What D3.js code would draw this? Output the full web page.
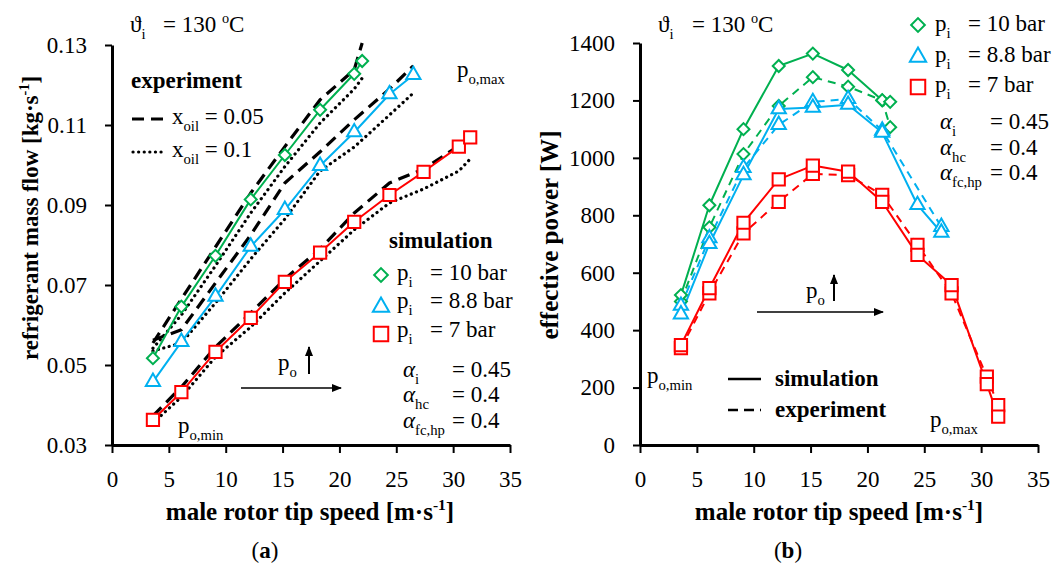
<!DOCTYPE html>
<html>
<head>
<meta charset="utf-8">
<script src="https://cdn.jsdelivr.net/npm/d3@7"></script>
<style>
  body { margin: 0; background: #fff; }
  svg text { font-family: "Liberation Serif", "Times New Roman", serif; fill: #000; }
</style>
</head>
<body>
<svg id="chart" width="1060" height="568"></svg>
<script>
// tip speeds [m/s] of the measured operating points
var speedGreen = [3.6, 6.1, 9.1, 12.2, 15.2, 18.3, 21.3, 22.0];
var speedBlue = [3.6, 6.1, 9.1, 12.2, 15.2, 18.3, 21.3, 24.4, 26.5];
var speedBlueExp = [3.6, 6.1, 9.1, 12.2, 15.2, 18.3, 21.3, 26.5];
var speedRed = [3.6, 6.1, 9.1, 12.2, 15.2, 18.3, 21.3, 24.4, 27.4, 30.5, 31.5];

// (a) refrigerant mass flow [kg/s]
var massGreenSim = [0.0517, 0.0646, 0.0773, 0.0914, 0.1025, 0.1138, 0.1228, 0.1260];
var massGreenX005 = [0.0555, 0.0665, 0.0795, 0.0930, 0.1046, 0.1163, 0.1238, 0.1305];
var massGreenX01 = [0.0542, 0.0625, 0.0748, 0.0880, 0.0996, 0.1105, 0.1190, 0.1217];
var massBlueSim = [0.0458, 0.0558, 0.0671, 0.0796, 0.0888, 0.0998, 0.1082, 0.1177, 0.1225];
var massBlueX005 = [0.0562, 0.0588, 0.0705, 0.0825, 0.0955, 0.1033, 0.1113, 0.1190, 0.1248];
var massBlueX01 = [0.0535, 0.0555, 0.0655, 0.0765, 0.0865, 0.0985, 0.1045, 0.1125, 0.1180];
var massRedSim = [0.0363, 0.0432, 0.0533, 0.0618, 0.0708, 0.0781, 0.0858, 0.0925, 0.0983, 0.1046, 0.1069];
var massRedX005 = [0.0373, 0.0445, 0.0545, 0.0630, 0.0715, 0.0790, 0.0880, 0.0955, 0.0990, 0.1048, 0.1065];
var massRedX01 = [0.0355, 0.0420, 0.0520, 0.0595, 0.0680, 0.0760, 0.0838, 0.0905, 0.0940, 0.0985, 0.1015];

// (b) effective power [W]
var powGreenSim = [522, 835, 1100, 1320, 1363, 1306, 1201, 1195];
var powGreenExp = [500, 758, 1013, 1181, 1281, 1248, 1200, 1107];
var powBlueSim = [455, 700, 940, 1170, 1175, 1185, 1088, 836, 740];
var powBlueExp = [485, 720, 965, 1115, 1195, 1205, 1095, 760];
var powRedSim = [348, 546, 774, 925, 973, 952, 847, 662, 557, 212, 99];
var powRedExp = [337, 528, 737, 847, 944, 940, 871, 697, 528, 238, 139];

// ticks
var speedTicks = [0, 5, 10, 15, 20, 25, 30, 35];
var massTicks = [0.03, 0.05, 0.07, 0.09, 0.11, 0.13];
var powTicks = [0, 200, 400, 600, 800, 1000, 1200, 1400];

var green = "#00b050", blue = "#00b0f0", red = "#ff0000";

var svg = d3.select("#chart");

// arrow head
svg.append("defs").append("marker")
    .attr("id", "arrow")
    .attr("viewBox", "0 0 10 10")
    .attr("refX", 9).attr("refY", 5)
    .attr("markerWidth", 10).attr("markerHeight", 10)
    .attr("markerUnits", "userSpaceOnUse")
    .attr("orient", "auto")
    .append("path").attr("d", "M0,1 L10,5 L0,9 Z").attr("fill", "#000");

// text with sub/superscripts
function rich(g, x, y, parts, size, bold) {
    size = size || 22;
    var t = g.append("text").attr("x", x).attr("y", y).style("font-size", size + "px");
    if (bold) t.style("font-weight", "bold");
    var shift = 0;
    parts.forEach(p => {
        var str = typeof p === "string" ? p : p[0];
        var kind = typeof p === "string" ? "" : p[1];
        var target = 0, fs = size;
        if (kind === "sub") { target = size * 0.3; fs = size * 0.64; }
        if (kind === "sup") { target = -size * 0.4; fs = size * 0.62; }
        var s = t.append("tspan").attr("dy", target - shift).style("font-size", fs + "px").text(str);
        if (kind === "i") s.style("font-style", "italic");
        if (kind === "b") s.style("font-weight", "bold");
        shift = target;
    });
    return t;
}

function drawAxes(g, x, y, yTicks, yFmt) {
    var ax = g.append("g").attr("transform", `translate(0,${y.range()[0]})`)
        .call(d3.axisBottom(x).tickValues(speedTicks).tickSize(8).tickSizeOuter(0).tickPadding(18));
    var ay = g.append("g").attr("transform", `translate(${x.range()[0]},0)`)
        .call(d3.axisLeft(y).tickValues(yTicks).tickFormat(yFmt).tickSize(7).tickSizeOuter(0).tickPadding(18));
    [ax, ay].forEach(a => {
        a.select(".domain").attr("stroke", "#000").attr("stroke-width", 3);
        a.selectAll(".tick line").attr("stroke", "#000").attr("stroke-width", 2);
        a.selectAll(".tick text").attr("font-family", null).style("font-size", "23px").attr("fill", "#000");
    });
}

function line(g, x, y, xs, ys, color, width, dash) {
    var gen = d3.line().x(d => x(d[0])).y(d => y(d[1]));
    var p = g.append("path")
        .datum(xs.map((v, i) => [v, ys[i]]))
        .attr("d", gen)
        .attr("fill", "none")
        .attr("stroke", color)
        .attr("stroke-width", width)
        .attr("stroke-linejoin", "round");
    if (dash) p.attr("stroke-dasharray", dash);
    if (dash === DOT) p.attr("stroke-linecap", "round");
    return p;
}

var symbols = {
    diamond: { type: d3.symbolSquare, size: 72, rot: 45 },
    triangle: { type: d3.symbolTriangle, size: 88, rot: 0 },
    square: { type: d3.symbolSquare, size: 150, rot: 0 }
};

function markers(g, x, y, xs, ys, shape, color, scale) {
    var s = symbols[shape];
    g.selectAll(null)
        .data(xs.map((v, i) => [v, ys[i]]))
        .join("path")
        .attr("d", d3.symbol().type(s.type).size(s.size * (scale || 1)))
        .attr("transform", d => `translate(${x(d[0])},${y(d[1])}) rotate(${s.rot})`)
        .attr("fill", "#fff")
        .attr("stroke", color)
        .attr("stroke-width", 2);
}

function marker1(g, cx, cy, shape, color, scale) {
    var s = symbols[shape];
    g.append("path")
        .attr("d", d3.symbol().type(s.type).size(s.size * (scale || 1)))
        .attr("transform", `translate(${cx},${cy}) rotate(${s.rot})`)
        .attr("fill", "#fff").attr("stroke", color).attr("stroke-width", 2);
}

// ---------------- (a) mass flow ----------------
var gA = svg.append("g");
var xA = d3.scaleLinear().domain([0, 35]).range([112, 510]);
var yA = d3.scaleLinear().domain([0.03, 0.13]).range([445, 45]);
drawAxes(gA, xA, yA, massTicks, d3.format(".2f"));

var DASH = "12 7", DOT = "0.1 5.5";
// experiment lines (black)
line(gA, xA, yA, speedGreen, massGreenX005, "#000", 3.2, DASH);
line(gA, xA, yA, speedGreen, massGreenX01, "#000", 3.2, DOT);
line(gA, xA, yA, speedBlue, massBlueX005, "#000", 3.2, DASH);
line(gA, xA, yA, speedBlue, massBlueX01, "#000", 3.2, DOT);
line(gA, xA, yA, speedRed, massRedX005, "#000", 3.2, DASH);
line(gA, xA, yA, speedRed, massRedX01, "#000", 3.2, DOT);
// simulation lines
line(gA, xA, yA, speedGreen, massGreenSim, green, 2);
line(gA, xA, yA, speedBlue, massBlueSim, blue, 2);
line(gA, xA, yA, speedRed, massRedSim, red, 2);
markers(gA, xA, yA, speedGreen, massGreenSim, "diamond", green);
markers(gA, xA, yA, speedBlue, massBlueSim, "triangle", blue);
markers(gA, xA, yA, speedRed, massRedSim, "square", red);

// annotations (a)
rich(gA, 130, 32, ["ϑ", ["i", "sub"]], 23);
rich(gA, 163, 32, ["= 130 ", ["o", "sup"], "C"], 23);
rich(gA, 457, 77, ["p", ["o,max", "sub"]], 23);
rich(gA, 131, 88, ["experiment"], 23, true);
gA.append("line").attr("x1", 132).attr("x2", 166).attr("y1", 119).attr("y2", 119)
    .attr("stroke", "#000").attr("stroke-width", 3.2).attr("stroke-dasharray", DASH);
rich(gA, 172, 124, ["x", ["oil", "sub"], " = 0.05"], 23);
gA.append("line").attr("x1", 133).attr("x2", 166).attr("y1", 152).attr("y2", 152)
    .attr("stroke", "#000").attr("stroke-width", 3.2).attr("stroke-dasharray", DOT).attr("stroke-linecap", "round");
rich(gA, 172, 157, ["x", ["oil", "sub"], " = 0.1"], 23);

rich(gA, 389, 248, ["simulation"], 23, true);
marker1(gA, 381, 275, "diamond", green, 1.3);
rich(gA, 397, 280, ["p", ["i", "sub"]], 23);
rich(gA, 430, 280, ["= 10 bar"], 23);
marker1(gA, 381, 307, "triangle", blue, 1.3);
rich(gA, 397, 308, ["p", ["i", "sub"]], 23);
rich(gA, 430, 308, ["= 8.8 bar"], 23);
marker1(gA, 381, 334, "square", red, 1.4);
rich(gA, 397, 337, ["p", ["i", "sub"]], 23);
rich(gA, 430, 337, ["= 7 bar"], 23);

rich(gA, 403, 377, [["α", "i"], ["i", "sub"]], 23);
rich(gA, 452, 377, ["= 0.45"], 23);
rich(gA, 403, 402, [["α", "i"], ["hc", "sub"]], 23);
rich(gA, 452, 402, ["= 0.4"], 23);
rich(gA, 403, 428, [["α", "i"], ["fc,hp", "sub"]], 23);
rich(gA, 452, 428, ["= 0.4"], 23);

rich(gA, 278, 370, ["p", ["o", "sub"]], 23);
gA.append("line").attr("x1", 309).attr("x2", 309).attr("y1", 374).attr("y2", 347)
    .attr("stroke", "#000").attr("stroke-width", 2).attr("marker-end", "url(#arrow)");
gA.append("line").attr("x1", 241).attr("x2", 341).attr("y1", 388).attr("y2", 388)
    .attr("stroke", "#000").attr("stroke-width", 1.5).attr("marker-end", "url(#arrow)");
rich(gA, 178, 433, ["p", ["o,min", "sub"]], 23);

// axis titles (a)
rich(gA, 0, 0, ["refrigerant mass flow [kg·s", ["-1", "sup"], "]"], 23, true)
    .attr("transform", "translate(38,218) rotate(-90)").attr("text-anchor", "middle");
rich(gA, 310, 520, ["male rotor tip speed [m·s", ["-1", "sup"], "]"], 25, true).attr("text-anchor", "middle");
rich(gA, 265, 558, ["(", ["a", "b"], ")"], 23).attr("text-anchor", "middle");

// ---------------- (b) effective power ----------------
var gB = svg.append("g");
var xB = d3.scaleLinear().domain([0, 35]).range([640, 1038]);
var yB = d3.scaleLinear().domain([0, 1400]).range([445, 43]);
drawAxes(gB, xB, yB, powTicks, d3.format("d"));

var CDASH = "8 6";
line(gB, xB, yB, speedGreen, powGreenExp, green, 2, CDASH);
line(gB, xB, yB, speedBlueExp, powBlueExp, blue, 2, CDASH);
line(gB, xB, yB, speedRed, powRedExp, red, 2, CDASH);
line(gB, xB, yB, speedGreen, powGreenSim, green, 2);
line(gB, xB, yB, speedBlue, powBlueSim, blue, 2);
line(gB, xB, yB, speedRed, powRedSim, red, 2);
markers(gB, xB, yB, speedGreen, powGreenExp, "diamond", green);
markers(gB, xB, yB, speedGreen, powGreenSim, "diamond", green);
markers(gB, xB, yB, speedBlueExp, powBlueExp, "triangle", blue);
markers(gB, xB, yB, speedBlue, powBlueSim, "triangle", blue);
markers(gB, xB, yB, speedRed, powRedExp, "square", red);
markers(gB, xB, yB, speedRed, powRedSim, "square", red);

// annotations (b)
rich(gB, 658, 32, ["ϑ", ["i", "sub"]], 23);
rich(gB, 692, 32, ["= 130 ", ["o", "sup"], "C"], 23);
marker1(gB, 918, 25, "diamond", green, 1.3);
rich(gB, 935, 31, ["p", ["i", "sub"]], 23);
rich(gB, 968, 31, ["= 10 bar"], 23);
marker1(gB, 918, 57, "triangle", blue, 1.3);
rich(gB, 935, 62, ["p", ["i", "sub"]], 23);
rich(gB, 968, 62, ["= 8.8 bar"], 23);
marker1(gB, 918, 87, "square", red, 1.4);
rich(gB, 935, 92, ["p", ["i", "sub"]], 23);
rich(gB, 968, 92, ["= 7 bar"], 23);

rich(gB, 940, 129, [["α", "i"], ["i", "sub"]], 23);
rich(gB, 990, 129, ["= 0.45"], 23);
rich(gB, 940, 155, [["α", "i"], ["hc", "sub"]], 23);
rich(gB, 990, 155, ["= 0.4"], 23);
rich(gB, 940, 180, [["α", "i"], ["fc,hp", "sub"]], 23);
rich(gB, 990, 180, ["= 0.4"], 23);

rich(gB, 806, 298, ["p", ["o", "sub"]], 23);
gB.append("line").attr("x1", 834).attr("x2", 834).attr("y1", 301).attr("y2", 275)
    .attr("stroke", "#000").attr("stroke-width", 2).attr("marker-end", "url(#arrow)");
gB.append("line").attr("x1", 757).attr("x2", 883).attr("y1", 312).attr("y2", 312)
    .attr("stroke", "#000").attr("stroke-width", 1.5).attr("marker-end", "url(#arrow)");
rich(gB, 647, 383, ["p", ["o,min", "sub"]], 23);
rich(gB, 930, 427, ["p", ["o,max", "sub"]], 23);

gB.append("line").attr("x1", 728).attr("x2", 761).attr("y1", 379).attr("y2", 379)
    .attr("stroke", "#000").attr("stroke-width", 2.5);
rich(gB, 775, 386, ["simulation"], 23, true);
gB.append("line").attr("x1", 728).attr("x2", 761).attr("y1", 410).attr("y2", 410)
    .attr("stroke", "#000").attr("stroke-width", 2.5).attr("stroke-dasharray", "10 6");
rich(gB, 775, 417, ["experiment"], 23, true);

rich(gB, 0, 0, ["effective power [W]"], 25, true)
    .attr("transform", "translate(558,235) rotate(-90)").attr("text-anchor", "middle");
rich(gB, 839, 520, ["male rotor tip speed [m·s", ["-1", "sup"], "]"], 25, true).attr("text-anchor", "middle");
rich(gB, 788, 558, ["(", ["b", "b"], ")"], 23).attr("text-anchor", "middle");
</script>
</body>
</html>
